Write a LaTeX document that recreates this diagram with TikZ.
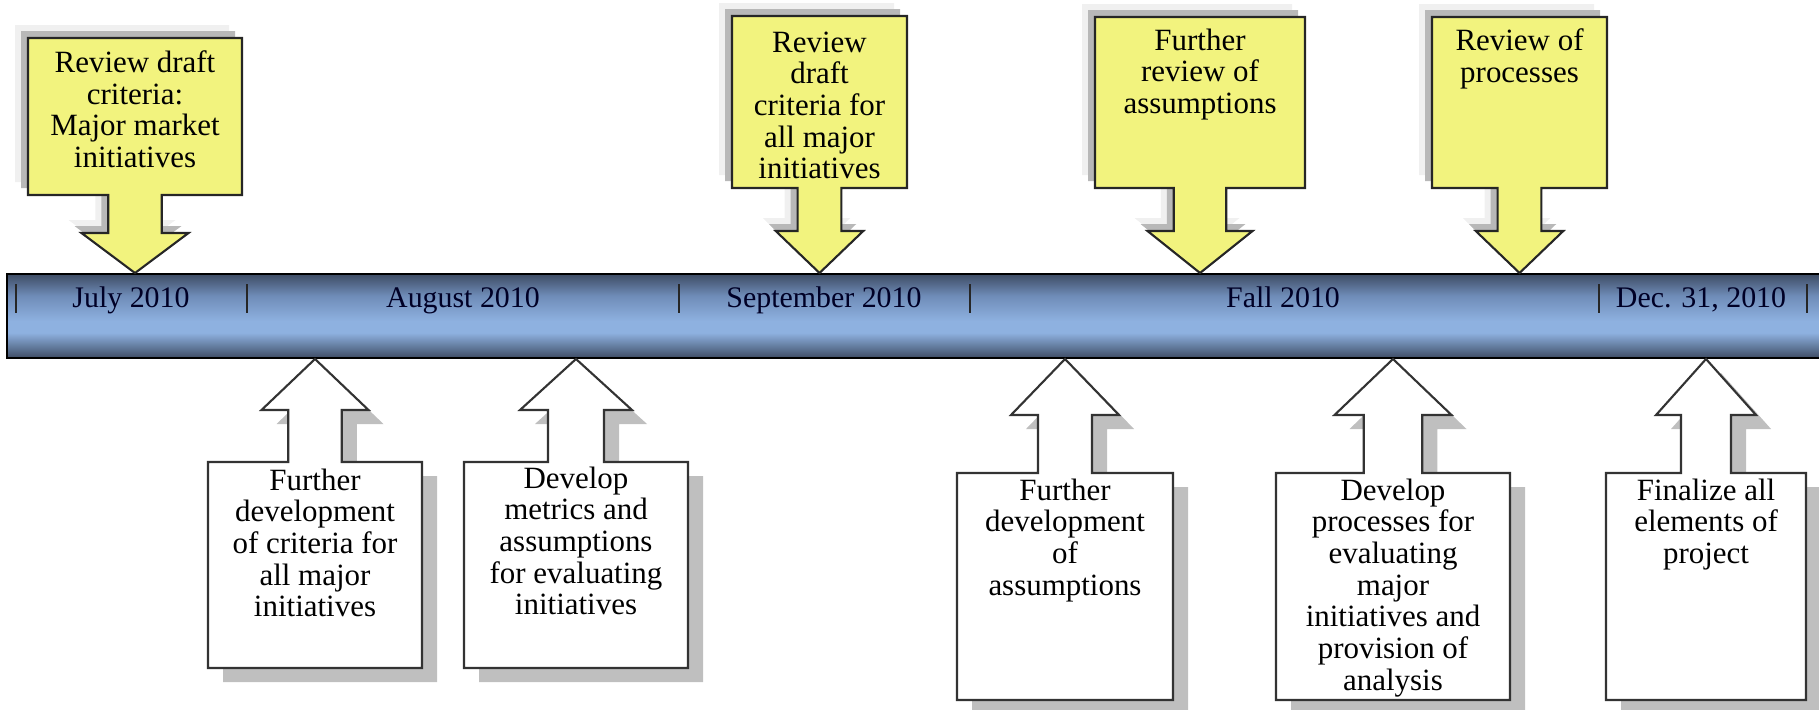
\documentclass[tikz,border=0pt]{standalone}
\usepackage{fontspec}
\setmainfont{Liberation Serif}
\usepackage{tikz}
\usetikzlibrary{positioning}
\definecolor{noteyellow}{HTML}{F2F37E}
\definecolor{bardark}{HTML}{3E4C64}
\definecolor{barmid}{HTML}{6F8CB8}
\definecolor{barlight}{HTML}{8EB1E0}
\definecolor{barlow}{HTML}{5E7596}
\pgfdeclareverticalshading{barshade}{100bp}{color(0bp)=(bardark); color(25bp)=(bardark);
  color(31bp)=(barlow); color(40bp)=(barlight); color(47bp)=(barlight);
  color(62bp)=(barmid); color(75bp)=(bardark); color(100bp)=(bardark)}
% callout: centre, half width, far edge, near edge, head base, tip
\newcommand{\notepath}[6]{({#1-#2},{#3}) -- ({#1+#2},{#3}) -- ({#1+#2},{#4}) -- ({#1+#2/4},{#4})
  -- ({#1+#2/4},{#5}) -- ({#1+#2/2},{#5}) -- ({#1},{#6}) -- ({#1-#2/2},{#5}) -- ({#1-#2/4},{#5})
  -- ({#1-#2/4},{#4}) -- ({#1-#2},{#4}) -- cycle}

\begin{document}
\begin{tikzpicture}[x=0.01cm, y=-0.01cm,
    upnote/.style={fill=noteyellow, draw=black!85, line width=0.6pt},
    downnote/.style={fill=white, draw=black!80, line width=0.6pt},
    haze/.style={fill=black!6},
    upshadow/.style={fill=black!28},
    downshadow/.style={fill=black!25},
    notetext/.style={anchor=north, align=center, inner sep=0pt,
                     font=\fontsize{8.8}{9}\selectfont},
    barlabel/.style={anchor=base, inner sep=0pt, text=black!85!blue,
                     font=\fontsize{8.5}{10}\selectfont},
    tick/.style={line width=0.7pt, draw=black!85}]
    \useasboundingbox (0,0) rectangle (1819,709);

    % time bar
    \shade[shading=barshade, draw=black, line width=0.6pt] (7,274) rectangle (1822,358);
    \foreach \x in {16,247,679,970,1599,1807}
      \draw[tick] (\x,284) -- (\x,313);
    \node[barlabel] (jul)  at (131,307)  {July 2010};
    \node[barlabel] (aug)  at (463,307)  {August 2010};
    \node[barlabel] (sep)  at (824,307)  {September 2010};
    \node[barlabel] (fall) at (1283,307) {Fall 2010};
    \node[barlabel] (dec)  at (1701,307) {Dec. 31, 2010};

    % upper notes
    \foreach \c/\w/\t/\n/\h in {135/107/38/195/233, 819.5/87.5/16/188/231,
                                1200/105/17/188/231, 1519.5/87.5/17/188/231} {
      \fill[haze, shift={(-13,-13)}] \notepath{\c}{\w}{\t}{\n}{\h}{273};
      \fill[upshadow, shift={(-7,-7)}] \notepath{\c}{\w}{\t}{\n}{\h}{273};
    }
    \draw[upnote] \notepath{135}{107}{38}{195}{233}{273};
    \draw[upnote] \notepath{819.5}{87.5}{16}{188}{231}{273};
    \draw[upnote] \notepath{1200}{105}{17}{188}{231}{273};
    \draw[upnote] \notepath{1519.5}{87.5}{17}{188}{231}{273};
    \node[notetext] (revA) at (135,50)    {Review draft\\criteria:\\Major market\\initiatives};
    \node[notetext] (revB) at (819.5,31)  {Review\\draft\\criteria for\\all major\\initiatives};
    \node[notetext] (revC) at (1200,28)   {Further\\review of\\assumptions};
    \node[notetext] (revD) at (1519.5,28) {Review of\\processes};

    % lower notes
    \foreach \c/\w/\b/\n/\h in {315/107/668/462/410, 576/112/668/462/410, 1065/108/700/473/415,
                                1393/117/700/473/415, 1706/100/700/473/415}
      \fill[downshadow, shift={(15,14)}] \notepath{\c}{\w}{\b}{\n}{\h}{359};
    \draw[downnote] \notepath{315}{107}{668}{462}{410}{359};
    \draw[downnote] \notepath{576}{112}{668}{462}{410}{359};
    \draw[downnote] \notepath{1065}{108}{700}{473}{415}{359};
    \draw[downnote] \notepath{1393}{117}{700}{473}{415}{359};
    \draw[downnote] \notepath{1706}{100}{700}{473}{415}{359};
    \node[notetext] (devA) at (315,468)  {Further\\development\\of criteria for\\all major\\initiatives};
    \node[notetext] (devB) at (576,466)  {Develop\\metrics and\\assumptions\\for evaluating\\initiatives};
    \node[notetext] (devC) at (1065,478) {Further\\development\\of\\assumptions};
    \node[notetext] (devD) at (1393,478) {Develop\\processes for\\evaluating\\major\\initiatives and\\provision of\\analysis};
    \node[notetext] (devE) at (1706,478) {Finalize all\\elements of\\project};
\end{tikzpicture}
\end{document}
